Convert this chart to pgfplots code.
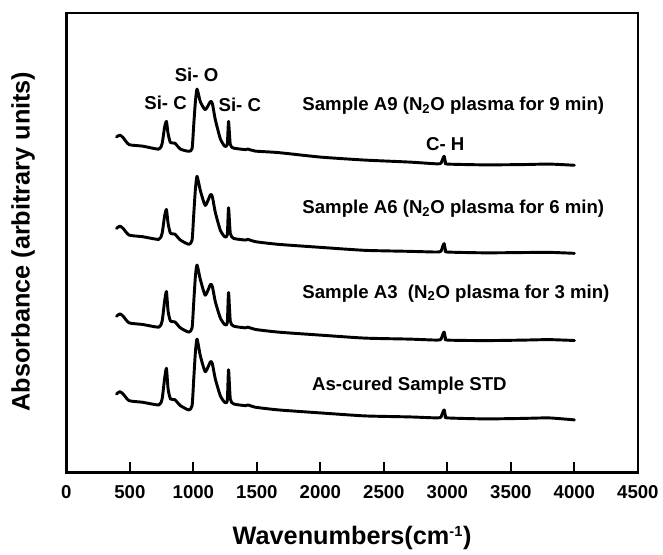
\documentclass[border=0pt]{standalone}
\usepackage{fontspec}
\setmainfont{Liberation Sans}
\usepackage{pgfplots}
\pgfplotsset{compat=1.18}
\begin{document}
\begin{tikzpicture}
\begin{axis}[
  scale only axis,
  width=429.75pt, height=345.75pt,
  xmin=0, xmax=4500, ymin=-4, ymax=457,
  xtick={0,500,1000,1500,2000,2500,3000,3500,4000,4500},
  ytick=\empty,
  xtick pos=left,
  tick align=inside,
  major tick length=8pt,
  axis line style={line width=1.9pt},
  every tick/.style={line width=1.6pt, black},
  /pgf/number format/assume math mode=true,
  /pgf/number format/1000 sep={},
  xticklabel style={font=\bfseries\fontsize{14}{14}\selectfont, yshift=-6pt},
  xlabel={\bfseries Wavenumbers(cm\textsuperscript{\fontsize{11}{11}\selectfont -1})},
  ylabel={\bfseries Absorbance (arbitrary units)},
  every axis x label/.style={at={(axis description cs:0.5,-0.142)}, anchor=center, font=\fontsize{19}{19}\selectfont},
  every axis y label/.style={at={(axis description cs:-0.0759,0.503)}, rotate=90, anchor=center, font=\fontsize{19}{19}\selectfont},
  clip=false,
  every axis plot post/.append style={line width=2.2pt, black, solid, mark=none, smooth, tension=0.35, line join=round, line cap=round},
]
% As-cured STD
\addplot coordinates {(395,75) (421,77.3) (447,75) (494,68.3) (599,66.7) (728,64) (754,70) (773,90) (788,100.7) (801,80) (820,70) (854,69.3) (898,63.3) (964,59) (990,63.3) (1003,90) (1016,116.7) (1029,130) (1055,113.3) (1094,97.3) (1135,107.5) (1150,105) (1173,90) (1212,73.3) (1246,66.7) (1267,68.3) (1277,99.3) (1291,70) (1317,65) (1409,63.3) (1430,64) (1488,61.7) (1670,59) (2000,56) (2350,53) (2700,52) (2920,51) (2950,52) (2965,57) (2975,59) (2985,53) (3000,51) (3300,50) (3600,50.5) (3800,51) (4000,49)};
% A3
\addplot coordinates {(395,153) (421,155.3) (447,153) (494,146.3) (599,144.7) (728,142) (754,148) (773,167.5) (788,177.7) (801,158) (820,148) (854,147.3) (898,141.3) (964,137) (990,141.3) (1003,167) (1016,192.7) (1029,204.3) (1055,189.8) (1094,174) (1135,185) (1150,182.5) (1173,167.5) (1212,151.3) (1246,144.7) (1267,146.3) (1277,176.7) (1291,148) (1317,143) (1409,141.3) (1430,142) (1488,139.7) (1670,137) (2000,134) (2350,131) (2700,130) (2920,129) (2950,130) (2965,135) (2975,137) (2985,131) (3000,129) (3300,128.5) (3600,129) (3800,129.5) (4000,128.6)};
% A6
\addplot coordinates {(395,241) (421,243.3) (447,241) (494,234.3) (599,232.7) (728,230) (754,236) (773,253) (788,260) (801,246) (820,236) (854,235.3) (898,229.3) (964,225) (990,229.3) (1003,255) (1016,280) (1029,293.3) (1055,279) (1094,264) (1135,275) (1150,272.5) (1173,257) (1212,239.3) (1246,232.7) (1267,234.3) (1277,261.7) (1291,236) (1317,231) (1409,229.3) (1430,230) (1488,227.7) (1670,225) (2000,222) (2350,219) (2700,218) (2920,217.3) (2950,218.3) (2965,223.5) (2975,225.7) (2985,219.3) (3000,217.3) (3300,216.5) (3600,216.8) (3800,217) (4000,216)};
% A9
\addplot coordinates {(395,332.7) (421,334.5) (447,332) (494,325) (599,323.5) (728,320.5) (754,326) (773,342) (788,348.3) (801,336) (820,327) (854,326.5) (898,320.5) (964,318.3) (990,321) (1003,345) (1016,368) (1029,380.7) (1055,368) (1094,360) (1135,368.3) (1150,366) (1173,350) (1212,331) (1246,323.5) (1267,325) (1277,348.3) (1291,325) (1317,321.5) (1409,320) (1430,320.5) (1488,318.5) (1670,317) (2000,312.5) (2350,309.5) (2700,307.5) (2920,305.7) (2950,306.5) (2965,311) (2975,313.3) (2985,307.5) (3000,305.5) (3300,304.7) (3600,305) (3800,305.5) (4000,304.3)};
\begin{scope}[every node/.style={font=\bfseries\fontsize{14}{14}\selectfont, inner sep=0pt}]
\node[anchor=west] at (axis cs:1857,364) {Sample A9 (N\textsubscript{2}O plasma for 9 min)};
\node[anchor=west] at (axis cs:1857,261) {Sample A6 (N\textsubscript{2}O plasma for 6 min)};
\node[anchor=west] at (axis cs:1857,176) {Sample A3\ \ (N\textsubscript{2}O plasma for 3 min)};
\node[anchor=west] at (axis cs:1933,83) {As-cured Sample STD};
\node at (axis cs:781,366.7) {Si- C};
\node at (axis cs:1025,395) {Si- O};
\node at (axis cs:1366,365) {Si- C};
\node at (axis cs:2984,325.5) {C- H};
\end{scope}
\end{axis}
\path ([shift={(-49.9pt,-57pt)}]current axis.south west) rectangle ([shift={(17.6pt,9.75pt)}]current axis.north east);
\end{tikzpicture}
\end{document}
